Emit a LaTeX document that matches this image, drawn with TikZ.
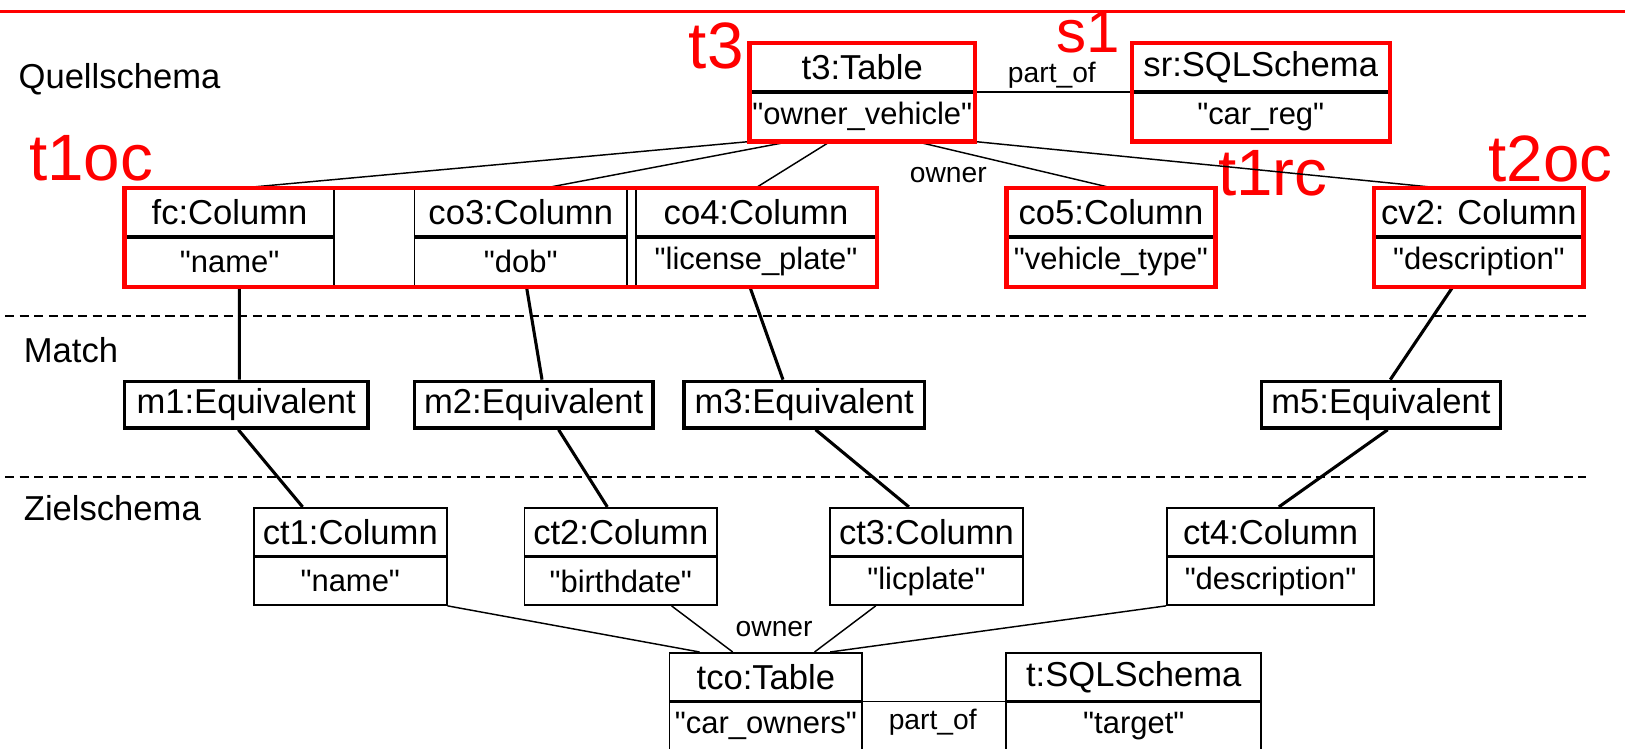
\documentclass[tikz,border=0pt]{standalone}
\usepackage{fontspec}
\setmainfont{Liberation Sans}[Ligatures=TeXOff]
\usetikzlibrary{positioning}

\begin{document}
\begin{tikzpicture}[x=0.02cm,y=-0.02cm,
        part/.style={draw,line width=1pt,inner sep=0pt,minimum height=0.92cm,font=\fontsize{19}{22}\selectfont},
        val/.style={part,font=\fontsize{17}{20}\selectfont},
        eqbox/.style={draw,line width=1.9pt,inner sep=0pt,minimum height=0.9cm,font=\fontsize{19}{22}\selectfont},
        hlbox/.style={draw=red,line width=2.3pt},
        tag/.style={text=red,inner sep=0pt,font=\fontsize{36}{42}\selectfont},
        lane/.style={inner sep=0pt,anchor=base west,font=\fontsize{19}{22}\selectfont},
        rel/.style={inner sep=0pt,font=\fontsize{15.5}{18}\selectfont},
        link/.style={line width=0.8pt},
        eqlink/.style={line width=1.7pt},
        sepline/.style={line width=1pt,dash pattern=on 5pt off 3pt}]

        \useasboundingbox (0,0) rectangle (1568,722);

        \draw[red,line width=1.8pt] (0,11) -- (1568,11);
        \draw[sepline] (5,305) -- (1530,305);
        \draw[sepline] (5,460) -- (1530,460);

        \node[lane] (qs) at (17.6,85) {Quellschema};
        \node[lane] (ma) at (22.7,350) {Match};
        \node[lane] (zs) at (22.7,502) {Zielschema};

        \node[tag] (tt3) at (691,44) {t3};
        \node[tag,font=\fontsize{33}{40}\selectfont] (ts1) at (1050,31) {s1};
        \node[tag] (tt1oc) at (88,153) {t1oc};
        \node[tag] (tt1rc) at (1228,167) {t1rc};
        \node[tag] (tt2oc) at (1496,153) {t2oc};

        \node[part,minimum width=4.32cm] (t3) at (832,65) {t3:Table};
        \node[val,minimum width=4.32cm,below=0pt of t3] (t3v) {"owner\_vehicle"};
        \node[part,minimum width=4.94cm] (sr) at (1216.5,65) {sr:SQLSchema};
        \node[val,minimum width=4.94cm,below=0pt of sr] (srv) {"car\_reg"};

        \node[part,minimum width=4.02cm] (fc) at (221.5,205) {fc:Column};
        \node[val,minimum width=4.02cm,below=0pt of fc] (fcv) {"name"};
        \node[part,minimum width=4.1cm] (co3) at (502.5,205) {co3:Column};
        \node[val,minimum width=4.1cm,below=0pt of co3] (co3v) {"dob"};
        \node[part,minimum width=4.62cm] (co4) at (729.5,205) {co4:Column};
        \node[val,minimum width=4.62cm,below=0pt of co4] (co4v) {"license\_plate"};
        \node[part,minimum width=4cm] (co5) at (1072,205) {co5:Column};
        \node[val,minimum width=4cm,below=0pt of co5] (co5v) {"vehicle\_type"};
        \node[part,minimum width=4cm] (cv2) at (1427,205) {cv2: Column};
        \node[val,minimum width=4cm,below=0pt of cv2] (cv2v) {"description"};

        \node[eqbox,minimum width=4.7cm] (m1) at (237.5,390.5) {m1:Equivalent};
        \node[eqbox,minimum width=4.6cm] (m2) at (515,390.5) {m2:Equivalent};
        \node[eqbox,minimum width=4.64cm] (m3) at (776,390.5) {m3:Equivalent};
        \node[eqbox,minimum width=4.62cm] (m5) at (1332.5,390.5) {m5:Equivalent};

        \node[part,minimum width=3.72cm] (ct1) at (338,513) {ct1:Column};
        \node[val,minimum width=3.72cm,below=0pt of ct1] (ct1v) {"name"};
        \node[part,minimum width=3.72cm] (ct2) at (599,513) {ct2:Column};
        \node[val,minimum width=3.72cm,below=0pt of ct2] (ct2v) {"birthdate"};
        \node[part,minimum width=3.72cm] (ct3) at (894,513) {ct3:Column};
        \node[val,minimum width=3.72cm,below=0pt of ct3] (ct3v) {"licplate"};
        \node[part,minimum width=4cm] (ct4) at (1226,513) {ct4:Column};
        \node[val,minimum width=4cm,below=0pt of ct4] (ct4v) {"description"};

        \node[part,minimum width=3.72cm] (tco) at (739,653) {tco:Table};
        \node[val,minimum width=3.72cm,below=0pt of tco] (tcov) {"car\_owners"};
        \node[part,minimum width=4.92cm] (tsch) at (1094,653) {t:SQLSchema};
        \node[val,minimum width=4.92cm,below=0pt of tsch] (tschv) {"target"};

        \node[rel] (po1) at (1015,73) {part\_of};
        \node[rel] (ow1) at (915,169) {owner};
        \node[rel] (ow2) at (747,607) {owner};
        \node[rel] (po2) at (900,697) {part\_of};

        \draw[link] (t3.south east) -- (sr.south west);
        \draw[link] (t3v.south west) -- ([xshift=0.3cm]fc.north);
        \draw[link] ([xshift=-1.4cm]t3v.south) -- ([xshift=0.5cm]co3.north);
        \draw[link] ([xshift=-0.62cm]t3v.south) -- (co4.north);
        \draw[link] ([xshift=1.04cm]t3v.south) -- (co5.north);
        \draw[link] (t3v.south east) -- ([xshift=-0.8cm]cv2.north);

        \draw[eqlink] ([xshift=0.19cm]fcv.south) -- ([xshift=-0.13cm]m1.north);
        \draw[eqlink] ([xshift=0.11cm]co3v.south) -- ([xshift=0.16cm]m2.north);
        \draw[eqlink] ([xshift=-0.12cm]co4v.south) -- ([xshift=-0.41cm]m3.north);
        \draw[eqlink] ([xshift=-0.5cm]cv2v.south) -- ([xshift=0.18cm]m5.north);

        \draw[eqlink] ([xshift=-0.15cm]m1.south) -- ([xshift=-0.92cm]ct1.north);
        \draw[eqlink] ([xshift=0.48cm]m2.south) -- ([xshift=-0.26cm]ct2.north);
        \draw[eqlink] ([xshift=0.22cm]m3.south) -- ([xshift=-0.34cm]ct3.north);
        \draw[eqlink] ([xshift=0.13cm]m5.south) -- ([xshift=0.16cm]ct4.north);

        \draw[link] (ct1v.south east) -- ([xshift=-1.28cm]tco.north);
        \draw[link] ([xshift=0.98cm]ct2v.south) -- ([xshift=-0.64cm]tco.north);
        \draw[link] ([xshift=-0.98cm]ct3v.south) -- ([xshift=0.94cm]tco.north);
        \draw[link] (ct4v.south west) -- ([xshift=1.24cm]tco.north);
        \draw[link] (tco.south east) -- (tsch.south west);

        \draw[hlbox] (t3.north west) rectangle (t3v.south east);
        \draw[hlbox] (sr.north west) rectangle (srv.south east);
        \draw[hlbox] (fc.north west) rectangle (co4v.south east);
        \draw[hlbox] (co5.north west) rectangle (co5v.south east);
        \draw[hlbox] (cv2.north west) rectangle (cv2v.south east);

    \end{tikzpicture}
\end{document}
